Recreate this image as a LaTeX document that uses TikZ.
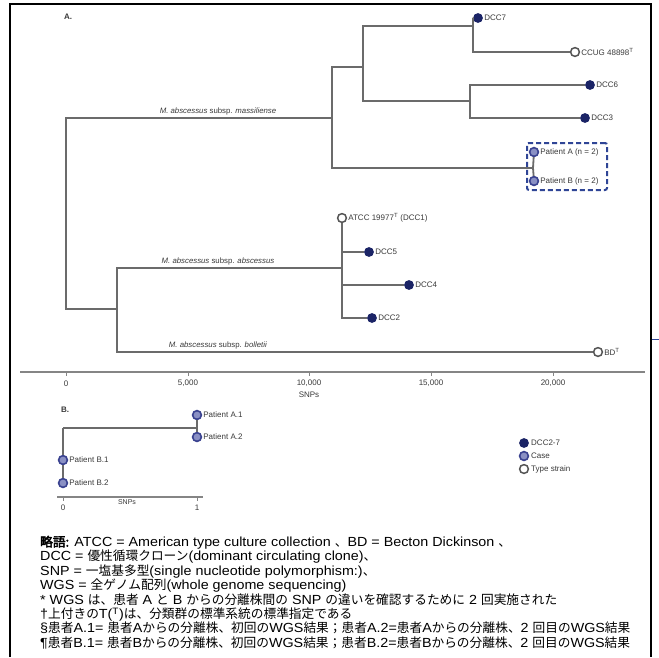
\documentclass[tikz,border=0pt]{standalone}
\usepackage{fontspec}
\setmainfont{Liberation Sans}
\newfontfamily\notefont[FakeStretch=1.085]{Liberation Sans}
\newfontfamily\cjk[Scale=0.962]{Noto Sans CJK JP}
\newfontfamily\cjkb[Scale=0.962,FakeBold=3]{Noto Sans CJK JP}
\definecolor{dccblue}{HTML}{1B2466}
\definecolor{casefill}{HTML}{8A90C4}
\definecolor{caseedge}{HTML}{3A4290}
\definecolor{typeedge}{HTML}{555555}
\definecolor{treegray}{HTML}{6B6B6B}
\definecolor{axisgray}{HTML}{858585}
\definecolor{boxblue}{HTML}{2F4596}
\definecolor{labelgray}{HTML}{3A3A3A}
\begin{document}
\begin{tikzpicture}[x=1pt,y=-1pt,
  branch/.style={draw=treegray, line width=1.8pt},
  axisline/.style={draw=axisgray, line width=1.3pt},
  dccn/.style={circle, fill=dccblue, inner sep=0pt, minimum size=9.8pt},
  casen/.style={circle, fill=casefill, draw=caseedge, line width=1.6pt, inner sep=0pt, minimum size=8.8pt},
  typen/.style={circle, fill=white, draw=typeedge, line width=1.5pt, inner sep=0pt, minimum size=8.8pt},
  lbl/.style={font=\fontsize{8}{9}\selectfont, text=labelgray, inner sep=1pt},
  clade/.style={font=\fontsize{7.8}{9}\selectfont, text=labelgray, inner sep=0pt},
  tick/.style={font=\fontsize{8}{9}\selectfont, text=labelgray, inner sep=0pt},
  panel/.style={font=\bfseries\fontsize{8}{9}\selectfont, text=labelgray, inner sep=0pt},
  note/.style={anchor=base west, inner sep=0pt, font=\notefont\fontsize{13.2}{14}\selectfont},
  framel/.style={draw=black, line width=1.3pt}]
\useasboundingbox (0,0) rectangle (659,657);
\fill[white] (0,0) rectangle (659,657);
% frame
\coordinate (f1) at (10,657); \coordinate (f2) at (10,4);
\coordinate (f3) at (651,4); \coordinate (f4) at (651,657);
\draw[framel] (f1) -- (f2) -- (f3) -- (f4);
\coordinate (bt1) at (652,339); \coordinate (bt2) at (659,339);
\draw[draw=boxblue, line width=0.9pt] (bt1) -- (bt2);

% ---------- Panel A ----------
\node[panel] (pA) at (68,17) {A.};
\coordinate (root) at (66,213);
\coordinate (nM) at (332,118);
\coordinate (n1) at (363,67);
\coordinate (n1a) at (473,26);
\coordinate (n1b) at (470,101);
\coordinate (pt) at (533,168);
\coordinate (nAB) at (117,309);
\coordinate (nAbs) at (342,268);

\node[dccn, label={[lbl]right:DCC7}] (dcc7) at (478,18) {};
\node[typen, label={[lbl]right:CCUG 48898\textsuperscript{T}}] (ccug) at (575,52) {};
\node[dccn, label={[lbl]right:DCC6}] (dcc6) at (590,85) {};
\node[dccn, label={[lbl]right:DCC3}] (dcc3) at (585,118) {};
\node[casen, label={[lbl]right:Patient A (n = 2)}] (patA) at (534,152) {};
\node[casen, label={[lbl]right:Patient B (n = 2)}] (patB) at (534,181) {};
\node[typen, label={[lbl]right:ATCC 19977\textsuperscript{T} (DCC1)}] (atcc) at (342,218) {};
\node[dccn, label={[lbl]right:DCC5}] (dcc5) at (369,252) {};
\node[dccn, label={[lbl]right:DCC4}] (dcc4) at (409,285) {};
\node[dccn, label={[lbl]right:DCC2}] (dcc2) at (372,318) {};
\node[typen, label={[lbl]right:BD\textsuperscript{T}}] (bd) at (598,352) {};

\draw[branch] (root) |- (nM);
\draw[branch] (root) |- (nAB);
\draw[branch] (nM) |- (n1);
\draw[branch] (nM) |- (pt);
\draw[branch] (n1) |- (n1a);
\draw[branch] (n1) |- (n1b);
\draw[branch] (n1a) |- (dcc7);
\draw[branch] (n1a) |- (ccug);
\draw[branch] (n1b) |- (dcc6);
\draw[branch] (n1b) |- (dcc3);
\draw[branch] (pt) -- (patA);
\draw[branch] (pt) -- (patB);
\draw[branch] (nAB) |- (nAbs);
\draw[branch] (nAB) |- (bd);
\draw[branch] (nAbs) -- (atcc);
\draw[branch] (nAbs) |- (dcc5);
\draw[branch] (nAbs) |- (dcc4);
\draw[branch] (nAbs) |- (dcc2);

\node[draw=boxblue, line width=2pt, dash pattern=on 5pt off 3pt, rounded corners=2pt,
      minimum width=80pt, minimum height=47pt, inner sep=0pt] (pbox) at (567,166.5) {};

\node[clade] (cM) at (218,111) {\textit{M. abscessus} subsp. \textit{massiliense}};
\node[clade] (cA) at (218,261) {\textit{M. abscessus} subsp. \textit{abscessus}};
\node[clade] (cB) at (218,345) {\textit{M. abscessus} subsp. \textit{bolletii}};

% axis A
\coordinate (axL) at (20,372); \coordinate (axR) at (645,372);
\draw[axisline] (axL) -- (axR);
\foreach \x/\t [count=\i] in {66/0, 188/{5,000}, 309/{10,000}, 431/{15,000}, 553/{20,000}}{
  \coordinate (tka\i) at (\x,372);
  \coordinate (tkb\i) at (\x,376);
  \draw[axisline, line width=0.8pt] (tka\i) -- (tkb\i);
  \node[tick] (tl\i) at (\x,383.5) {\t};
}
\node[tick] (snpA) at (309,395) {SNPs};

% ---------- Panel B ----------
\node[panel] (pB) at (65,410) {B.};
\coordinate (bRoot) at (63,428);
\coordinate (bA) at (197,428);
\node[casen, label={[lbl]right:Patient A.1}] (pa1) at (197,415) {};
\node[casen, label={[lbl]right:Patient A.2}] (pa2) at (197,437) {};
\node[casen, label={[lbl]right:Patient B.1}] (pb1) at (63,460) {};
\node[casen, label={[lbl]right:Patient B.2}] (pb2) at (63,483) {};
\draw[branch] (bRoot) -- (bA);
\draw[branch] (bA) -- (pa1);
\draw[branch] (bA) -- (pa2);
\draw[branch] (bRoot) -- (pb1);
\draw[branch] (pb1) -- (pb2);

\coordinate (bxL) at (57,497); \coordinate (bxR) at (203,497);
\draw[axisline] (bxL) -- (bxR);
\coordinate (bt0a) at (63,497); \coordinate (bt0b) at (63,501);
\coordinate (bt1a) at (197,497); \coordinate (bt1b) at (197,501);
\draw[axisline, line width=0.8pt] (bt0a) -- (bt0b);
\draw[axisline, line width=0.8pt] (bt1a) -- (bt1b);
\node[tick] (bl0) at (63,507.5) {0};
\node[tick] (bl1) at (197,507.5) {1};
\node[tick, font=\fontsize{7}{8}\selectfont] (snpB) at (127,502.5) {SNPs};

% legend
\node[dccn] (lg1) at (524,443) {};
\node[casen] (lg2) at (524,456) {};
\node[typen] (lg3) at (524,469) {};
\node[lbl, anchor=west] (lg1t) at (530,443) {DCC2-7};
\node[lbl, anchor=west] (lg2t) at (530,456) {Case};
\node[lbl, anchor=west] (lg3t) at (530,469) {Type strain};

% ---------- footnotes ----------
\node[note] (t1) at (40,546.5) {{\cjkb 略語:} ATCC = American type culture collection {\cjk 、}BD = Becton Dickinson {\cjk 、}};
\node[note] (t2) at (40,560.9) {DCC = {\cjk 優性循環クローン}(dominant circulating clone){\cjk 、}};
\node[note] (t3) at (40,575.3) {SNP = {\cjk 一塩基多型}(single nucleotide polymorphism:){\cjk 、}};
\node[note] (t4) at (40,589.7) {WGS = {\cjk 全ゲノム配列}(whole genome sequencing)};
\node[note] (t5) at (40,604.1) {* WGS {\cjk は、患者} A {\cjk と} B {\cjk からの分離株間の} SNP {\cjk の違いを確認するために} 2 {\cjk 回実施された}};
\node[note] (t6) at (40,618.5) {\dag{\cjk 上付きの}T(\textsuperscript{T}){\cjk は、分類群の標準系統の標準指定である}};
\node[note] (t7) at (40,632.9) {\S{\cjk 患者}A.1= {\cjk 患者}A{\cjk からの分離株、初回の}WGS{\cjk 結果；患者}A.2={\cjk 患者}A{\cjk からの分離株、}2 {\cjk 回目の}WGS{\cjk 結果}};
\node[note] (t8) at (40,647.3) {\P{\cjk 患者}B.1= {\cjk 患者}B{\cjk からの分離株、初回の}WGS{\cjk 結果；患者}B.2={\cjk 患者}B{\cjk からの分離株、}2 {\cjk 回目の}WGS{\cjk 結果}};
\end{tikzpicture}
\end{document}
